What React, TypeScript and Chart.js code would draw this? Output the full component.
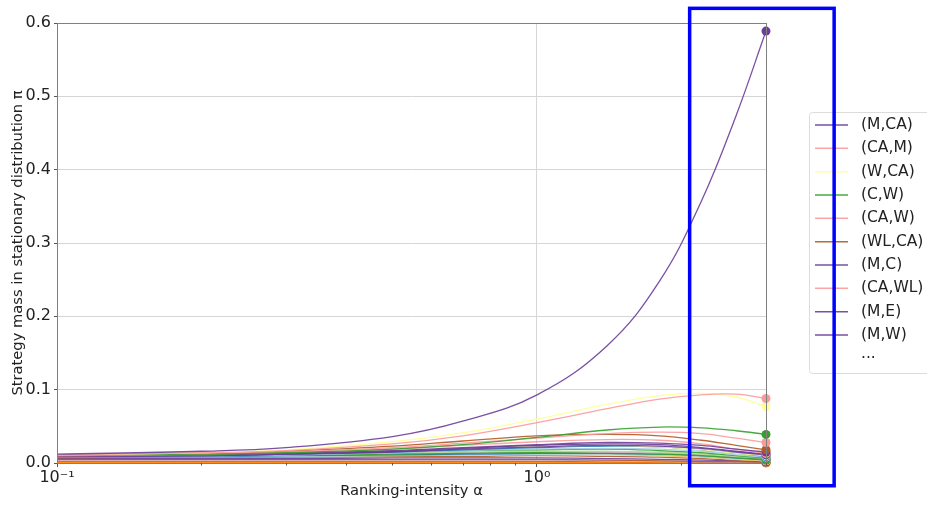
import { useEffect, useRef } from 'react';
import { Chart, registerables } from 'chart.js';

Chart.register(...registerables);

// ---------- data ----------
const ALPHA = [0.1, 0.2, 0.3, 0.5, 0.7, 1.0, 1.4, 1.8, 2.2, 2.6, 3.0];

const X_MAJOR_TICKS = [0.1, 1];
const X_TICK_LABELS = ['10⁻¹', '10⁰'];
const X_MINOR_TICKS = [0.2, 0.3, 0.4, 0.5, 0.6, 0.7, 0.8, 0.9, 2, 3];

const M_CA = [0.012, 0.016, 0.021, 0.036, 0.057, 0.093, 0.160, 0.248, 0.357, 0.474, 0.589];
const CA_M = [0.011, 0.014, 0.017, 0.026, 0.037, 0.055, 0.074, 0.087, 0.093, 0.094, 0.088];
const W_CA = [0.011, 0.014, 0.018, 0.029, 0.041, 0.060, 0.080, 0.092, 0.095, 0.090, 0.077];
const C_W = [0.011, 0.012, 0.014, 0.019, 0.025, 0.035, 0.045, 0.049, 0.048, 0.044, 0.039];
const CA_W = [0.010, 0.012, 0.015, 0.021, 0.027, 0.034, 0.040, 0.042, 0.040, 0.034, 0.028];
const WL_CA = [0.010, 0.012, 0.016, 0.023, 0.030, 0.037, 0.039, 0.037, 0.031, 0.024, 0.018];
const M_C = [0.010, 0.011, 0.013, 0.017, 0.021, 0.025, 0.028, 0.027, 0.024, 0.019, 0.015];
const CA_WL = [0.010, 0.011, 0.014, 0.019, 0.024, 0.029, 0.032, 0.031, 0.026, 0.019, 0.013];
const M_E = [0.009, 0.010, 0.012, 0.016, 0.020, 0.024, 0.026, 0.025, 0.021, 0.016, 0.012];
const M_W = [0.009, 0.010, 0.012, 0.015, 0.019, 0.022, 0.024, 0.023, 0.020, 0.015, 0.011];
const W_C = [0.009, 0.011, 0.013, 0.017, 0.020, 0.023, 0.024, 0.022, 0.018, 0.013, 0.010];
const E_CA = [0.009, 0.010, 0.012, 0.015, 0.018, 0.021, 0.023, 0.022, 0.018, 0.013, 0.009];
const CW_CA = [0.009, 0.010, 0.011, 0.014, 0.017, 0.019, 0.020, 0.019, 0.016, 0.011, 0.008];
const C_CA = [0.011, 0.012, 0.013, 0.015, 0.017, 0.018, 0.019, 0.017, 0.014, 0.010, 0.007];
const C_M = [0.010, 0.011, 0.011, 0.012, 0.013, 0.014, 0.013, 0.012, 0.010, 0.007, 0.005];
const WC_CA = [0.010, 0.011, 0.012, 0.014, 0.015, 0.016, 0.016, 0.015, 0.012, 0.009, 0.006];
const WM_CA = [0.009, 0.010, 0.011, 0.013, 0.014, 0.015, 0.015, 0.014, 0.011, 0.008, 0.005];
const CA_C = [0.009, 0.010, 0.011, 0.013, 0.014, 0.015, 0.015, 0.013, 0.011, 0.008, 0.006];
const E_M = [0.008, 0.009, 0.010, 0.011, 0.012, 0.013, 0.013, 0.012, 0.010, 0.007, 0.004];
const CW_M = [0.008, 0.009, 0.009, 0.010, 0.011, 0.012, 0.012, 0.011, 0.009, 0.006, 0.004];
const LW_CA = [0.010, 0.010, 0.011, 0.012, 0.013, 0.013, 0.012, 0.010, 0.008, 0.005, 0.003];
const WC_M = [0.008, 0.009, 0.009, 0.010, 0.011, 0.011, 0.011, 0.010, 0.008, 0.005, 0.003];
const WL_C = [0.007, 0.008, 0.008, 0.009, 0.009, 0.010, 0.009, 0.008, 0.006, 0.004, 0.003];
const M_L = [0.006, 0.006, 0.006, 0.007, 0.007, 0.007, 0.006, 0.005, 0.004, 0.003, 0.002];
const WL_M = [0.005, 0.005, 0.005, 0.005, 0.005, 0.005, 0.004, 0.003, 0.002, 0.0015, 0.001];
const WM_M = [0.004, 0.004, 0.004, 0.004, 0.004, 0.004, 0.003, 0.003, 0.002, 0.001, 0.001];
const LW_M = [0.004, 0.004, 0.004, 0.004, 0.004, 0.004, 0.003, 0.002, 0.0015, 0.001, 0.0008];
const WL_E = [0.003, 0.003, 0.003, 0.003, 0.003, 0.003, 0.002, 0.002, 0.001, 0.0008, 0.0005];
const L_CA = [0.002, 0.002, 0.002, 0.002, 0.002, 0.002, 0.0015, 0.001, 0.0008, 0.0005, 0.0003];
const L_M = [0.001, 0.001, 0.001, 0.001, 0.001, 0.001, 0.0008, 0.0006, 0.0004, 0.0003, 0.0002];

const PURPLE = '#6a3d9a';
const PINK = '#fb9a99';
const YELLOW = '#ffff99';
const GREEN = '#33a02c';
const BROWN = '#b15928';
const BLUE = '#1f78b4';
const LIGHT_BLUE = '#a6cee3';
const LIGHT_GREEN = '#b2df8a';
const LIGHT_PURPLE = '#cab2d6';
const LIGHT_ORANGE = '#fdbf6f';
const ORANGE = '#ff7f00';

const SERIES: [string, number[], string][] = [
  ['(M,CA)', M_CA, PURPLE],
  ['(CA,M)', CA_M, PINK],
  ['(W,CA)', W_CA, YELLOW],
  ['(C,W)', C_W, GREEN],
  ['(CA,W)', CA_W, PINK],
  ['(WL,CA)', WL_CA, BROWN],
  ['(M,C)', M_C, PURPLE],
  ['(CA,WL)', CA_WL, PINK],
  ['(M,E)', M_E, PURPLE],
  ['(M,W)', M_W, PURPLE],
  ['(W,C)', W_C, YELLOW],
  ['(E,CA)', E_CA, BLUE],
  ['(CW,CA)', CW_CA, LIGHT_BLUE],
  ['(C,CA)', C_CA, GREEN],
  ['(C,M)', C_M, GREEN],
  ['(WC,CA)', WC_CA, LIGHT_GREEN],
  ['(WM,CA)', WM_CA, LIGHT_PURPLE],
  ['(CA,C)', CA_C, PINK],
  ['(E,M)', E_M, BLUE],
  ['(CW,M)', CW_M, LIGHT_BLUE],
  ['(LW,CA)', LW_CA, LIGHT_ORANGE],
  ['(WC,M)', WC_M, LIGHT_GREEN],
  ['(WL,C)', WL_C, BROWN],
  ['(M,L)', M_L, PURPLE],
  ['(WL,M)', WL_M, BROWN],
  ['(WM,M)', WM_M, LIGHT_PURPLE],
  ['(LW,M)', LW_M, LIGHT_ORANGE],
  ['(WL,E)', WL_E, BROWN],
  ['(L,CA)', L_CA, ORANGE],
  ['(L,M)', L_M, ORANGE],
];

const LEGEND_COUNT = 10;
const LEGEND_MORE = '...';

// highlight box annotation (data coordinates)
const HIGHLIGHT_X = [2.08, 4.16];
const HIGHLIGHT_Y = [-0.031, 0.62];

const FONT = '"DejaVu Sans", sans-serif';

function withAlpha(hex: string, a: number) {
  const r = parseInt(hex.slice(1, 3), 16);
  const g = parseInt(hex.slice(3, 5), 16);
  const b = parseInt(hex.slice(5, 7), 16);
  return `rgba(${r},${g},${b},${a})`;
}

const overlayPlugin = {
  id: 'overlay',
  afterDraw(chart: any) {
    const { ctx, chartArea: a, scales } = chart;
    const xs = scales.x;
    const ys = scales.y;
    ctx.save();
    // spines
    ctx.strokeStyle = '#808080';
    ctx.lineWidth = 1;
    ctx.strokeRect(Math.round(a.left) + 0.5, Math.round(a.top) + 0.5, Math.round(a.right - a.left), Math.round(a.bottom - a.top));
    // minor ticks
    ctx.strokeStyle = '#555';
    for (const v of X_MINOR_TICKS) {
      const px = Math.round(xs.getPixelForValue(v)) + 0.5;
      ctx.beginPath();
      ctx.moveTo(px, a.bottom);
      ctx.lineTo(px, a.bottom + 2.5);
      ctx.stroke();
    }
    // legend
    const lx = 809.5, ly = 112.5, lw = 140, lh = 261;
    ctx.fillStyle = 'rgba(255,255,255,0.85)';
    ctx.strokeStyle = '#dcdcdc';
    ctx.lineWidth = 1;
    ctx.beginPath();
    if (ctx.roundRect) ctx.roundRect(lx, ly, lw, lh, 3);
    else ctx.rect(lx, ly, lw, lh);
    ctx.fill();
    ctx.stroke();
    ctx.font = `15.5px ${FONT}`;
    ctx.textBaseline = 'middle';
    ctx.textAlign = 'left';
    const ds = chart.data.datasets;
    const rowH = 23.33;
    for (let i = 0; i <= LEGEND_COUNT; i++) {
      const y = 125 + i * rowH;
      if (i < LEGEND_COUNT) {
        ctx.strokeStyle = ds[i].borderColor;
        ctx.lineWidth = 1.5;
        ctx.beginPath();
        ctx.moveTo(815, y);
        ctx.lineTo(848, y);
        ctx.stroke();
        ctx.fillStyle = '#222';
        ctx.fillText(ds[i].label, 861, y);
      } else {
        ctx.fillStyle = '#222';
        ctx.fillText(LEGEND_MORE, 861, y - 4);
      }
    }
    // highlight rectangle
    const x0 = xs.getPixelForValue(HIGHLIGHT_X[0]);
    const x1 = xs.getPixelForValue(HIGHLIGHT_X[1]);
    const y0 = ys.getPixelForValue(HIGHLIGHT_Y[1]);
    const y1 = ys.getPixelForValue(HIGHLIGHT_Y[0]);
    ctx.strokeStyle = '#0000ff';
    ctx.lineWidth = 3.5;
    ctx.strokeRect(x0, y0, x1 - x0, y1 - y0);
    ctx.restore();
  },
};

export default function App() {
  const ref = useRef<HTMLCanvasElement | null>(null);

  useEffect(() => {
    if (!ref.current) return;
    const last = ALPHA.length - 1;
    const datasets = SERIES.map(([label, vals, color]) => ({
      label,
      data: ALPHA.map((x, i) => ({ x, y: vals[i] })),
      borderColor: withAlpha(color, 0.9),
      backgroundColor: color,
      borderWidth: 1.3,
      pointRadius: (c: any) => (c.dataIndex === last ? 4.5 : 0),
      pointHoverRadius: 0,
      pointBackgroundColor: color,
      pointBorderWidth: 0,
      tension: 0.4,
      fill: false,
      clip: false as any,
    }));

    const chart = new Chart(ref.current, {
      type: 'line',
      data: { datasets },
      plugins: [overlayPlugin],
      options: {
        responsive: false,
        animation: false,
        layout: { padding: { top: 23, right: 161, bottom: 0, left: 0 } },
        plugins: { legend: { display: false }, tooltip: { enabled: false } },
        scales: {
          x: {
            type: 'logarithmic',
            min: 0.1,
            max: 3,
            afterBuildTicks: (scale: any) => {
              scale.ticks = X_MAJOR_TICKS.map((v) => ({ value: v }));
            },
            afterFit: (scale: any) => {
              scale.height = 45;
            },
            ticks: {
              autoSkip: false,
              maxRotation: 0,
              padding: 1,
              color: '#222',
              font: { family: FONT, size: 16 },
              callback: (v: any) => {
                const i = X_MAJOR_TICKS.findIndex((t) => Math.abs(t - Number(v)) < 1e-9);
                return i >= 0 ? X_TICK_LABELS[i] : '';
              },
            },
            grid: { color: '#d6d6d6', tickColor: '#555', tickLength: 4, lineWidth: 1 },
            border: { display: false },
            title: {
              display: true,
              text: 'Ranking-intensity α',
              color: '#222',
              font: { family: FONT, size: 14.7 },
              padding: { top: 0, bottom: 8 },
            },
          },
          y: {
            type: 'linear',
            min: 0,
            max: 0.6,
            afterFit: (scale: any) => {
              scale.width = 57;
            },
            ticks: {
              stepSize: 0.1,
              padding: 3,
              color: '#222',
              font: { family: FONT, size: 16 },
              callback: (v: any) => Number(v).toFixed(1),
            },
            grid: { color: '#d6d6d6', tickColor: '#555', tickLength: 3, lineWidth: 1 },
            border: { display: false },
            title: {
              display: true,
              text: 'Strategy mass in stationary distribution π',
              color: '#222',
              font: { family: FONT, size: 14.7 },
              padding: { top: 9.5, bottom: 0 },
            },
          },
        },
      },
    });
    return () => chart.destroy();
  }, []);

  return (
    <div style={{ position: 'fixed', left: 0, top: 0, width: 927, height: 508, background: '#fff' }}>
      <canvas ref={ref} width={927} height={508} style={{ display: 'block' }} />
    </div>
  );
}
